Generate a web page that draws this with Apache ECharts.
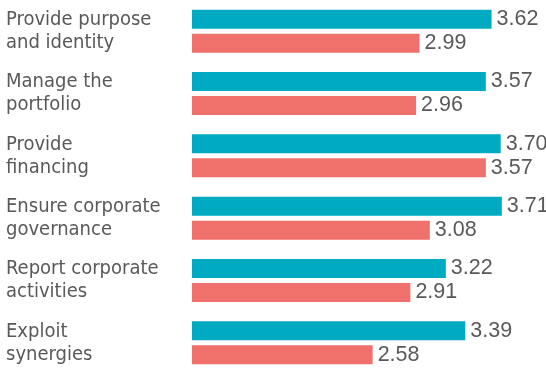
<!DOCTYPE html>
<html>
<head>
<meta charset="utf-8">
<script src="https://cdn.jsdelivr.net/npm/echarts@6/dist/echarts.min.js"></script>
<style>
  html, body { margin: 0; padding: 0; background: #fff; }
  #chart { width: 546px; height: 374px; }
</style>
</head>
<body>
<div id="chart"></div>
<script>
// Corporate parent roles, two rating series
const categories = [
  'Provide purpose\nand identity',
  'Manage the\nportfolio',
  'Provide\nfinancing',
  'Ensure corporate\ngovernance',
  'Report corporate\nactivities',
  'Exploit\nsynergies'
];
const tealValues = [3.62, 3.57, 3.70, 3.71, 3.22, 3.39];
const redValues = [2.99, 2.96, 3.57, 3.08, 2.91, 2.58];

const textColor = '#595959';
const labelFont = '"Liberation Sans Narrow", "DejaVu Sans Condensed", sans-serif';

const chart = echarts.init(document.getElementById('chart'), null, { renderer: 'canvas' });

const valueLabel = {
  show: true,
  position: 'right',
  distance: 5,
  color: textColor,
  fontFamily: '"Liberation Sans", Arial, sans-serif',
  fontSize: 21.5,
  formatter: p => p.value.toFixed(2)
};

chart.setOption({
  animation: false,
  grid: { left: 192, right: 11, top: -3.7, height: 386.4, containLabel: false },
  xAxis: {
    type: 'value',
    min: 1,
    max: 4,
    show: false
  },
  yAxis: {
    type: 'category',
    data: categories,
    inverse: true,
    axisLine: { show: false },
    axisTick: { show: false },
    splitLine: { show: false },
    axisLabel: {
      align: 'left',
      margin: 186,
      color: textColor,
      fontFamily: labelFont,
      fontSize: 20,
      lineHeight: 23
    }
  },
  series: [
    {
      type: 'bar',
      data: tealValues,
      barWidth: 19,
      barGap: '26%',
      itemStyle: { color: '#00AAC0' },
      label: valueLabel
    },
    {
      type: 'bar',
      data: redValues,
      barWidth: 19,
      itemStyle: { color: '#F0706B' },
      label: valueLabel
    }
  ]
});
</script>
</body>
</html>
